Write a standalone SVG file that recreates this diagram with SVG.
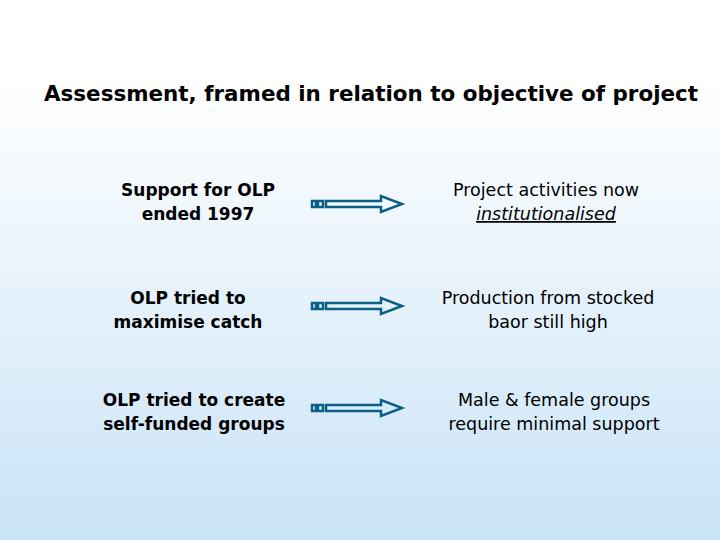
<svg xmlns="http://www.w3.org/2000/svg" width="720" height="540" viewBox="0 0 720 540">
<defs>
<linearGradient id="bg" x1="0" y1="0" x2="0" y2="1">
<stop offset="0" stop-color="#ffffff"/><stop offset="0.15" stop-color="#ffffff"/><stop offset="1" stop-color="#c9e3f7"/>
</linearGradient>
<g id="arr" fill="none" stroke="#0b5f86" stroke-width="2.5">
<rect x="312" y="-3" width="4" height="6"/><rect x="318" y="-3" width="5" height="6"/>
<path d="M326,-3 H381 V-8 L402,0 L381,8 V3 H326 Z"/>
</g>
</defs>
<style>
.b{font-family:"DejaVu Sans",Verdana,sans-serif;font-weight:bold;font-size:17px;text-anchor:middle;fill:#000}
.r{font-family:"DejaVu Sans",Verdana,sans-serif;font-size:17.5px;text-anchor:middle;fill:#000}
</style>
<rect width="720" height="540" fill="url(#bg)"/>
<text x="371" y="101" class="b" style="font-size:21px" textLength="654" lengthAdjust="spacingAndGlyphs">Assessment, framed in relation to objective of  project</text>
<g id="connectors">
<use href="#arr" y="204"/><use href="#arr" y="306"/><use href="#arr" y="408"/>
</g>
<g id="n1"><text class="b" x="198" y="196">Support for OLP</text><text class="b" x="198" y="220">ended 1997</text></g>
<g id="n2"><text class="r" x="546" y="196">Project activities now</text><text class="r" x="546" y="220" font-style="italic" text-decoration="underline" font-family="Liberation Sans, sans-serif">institutionalised</text></g>
<g id="n3"><text class="b" x="188" y="304">OLP tried to</text><text class="b" x="188" y="328">maximise catch</text></g>
<g id="n4"><text class="r" x="548" y="304">Production from stocked</text><text class="r" x="548" y="328">baor still high</text></g>
<g id="n5"><text class="b" x="194" y="406">OLP tried to create</text><text class="b" x="194" y="430">self-funded groups</text></g>
<g id="n6"><text class="r" x="554" y="406">Male &amp; female groups</text><text class="r" x="554" y="430">require minimal support</text></g>
</svg>
